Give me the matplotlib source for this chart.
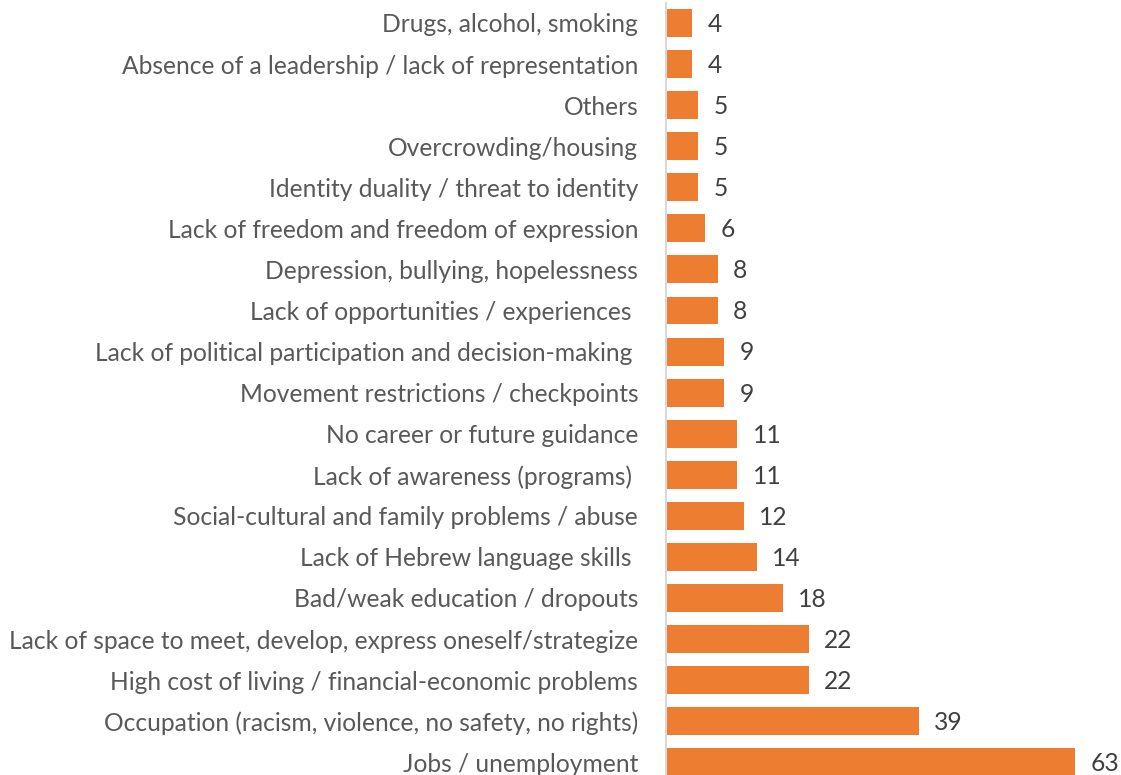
import matplotlib
matplotlib.use("Agg")
import matplotlib.pyplot as plt

plt.rcParams['font.family'] = ['Lato', 'DejaVu Sans']

# categories listed top to bottom
categories = [
    "Drugs, alcohol, smoking",
    "Absence of a leadership / lack of representation",
    "Others",
    "Overcrowding/housing",
    "Identity duality / threat to identity",
    "Lack of freedom and freedom of expression",
    "Depression, bullying, hopelessness",
    "Lack of opportunities / experiences ",
    "Lack of political participation and decision-making ",
    "Movement restrictions / checkpoints",
    "No career or future guidance",
    "Lack of awareness (programs) ",
    "Social-cultural and family problems / abuse",
    "Lack of Hebrew language skills ",
    "Bad/weak education / dropouts",
    "Lack of space to meet, develop, express oneself/strategize",
    "High cost of living / financial-economic problems",
    "Occupation (racism, violence, no safety, no rights)",
    "Jobs / unemployment",
]
counts = [4, 4, 5, 5, 5, 6, 8, 8, 9, 9, 11, 11, 12, 14, 18, 22, 22, 39, 63]

bar_color = "#ED7D31"
text_color = "#595959"

fig = plt.figure(figsize=(11.21, 7.75), dpi=100)
ax = fig.add_axes([666 / 1121, 0, 1 - 666 / 1121, 1])

pos = list(range(len(categories)))
ax.barh(pos, counts, height=0.68, color=bar_color)

for y, v in zip(pos, counts):
    ax.annotate(str(v), xy=(v, y), xytext=(11, -1), textcoords="offset points",
                va="center", ha="left", fontsize=17.7, color="#404040")

ax.set_xlim(0, 70.1)
ax.set_ylim(18.31, -0.56)
ax.set_yticks(pos)
ax.set_yticklabels(categories, fontsize=17.7, color=text_color)
ax.tick_params(axis="y", length=0, pad=20)
ax.set_xticks([])

for s in ["top", "right", "bottom"]:
    ax.spines[s].set_visible(False)
ax.spines["left"].set_color("#D9D9D9")
ax.spines["left"].set_linewidth(1.5)
ax.spines["left"].set_bounds(18.31, -0.48)

fig.savefig("out.png", dpi=100)
